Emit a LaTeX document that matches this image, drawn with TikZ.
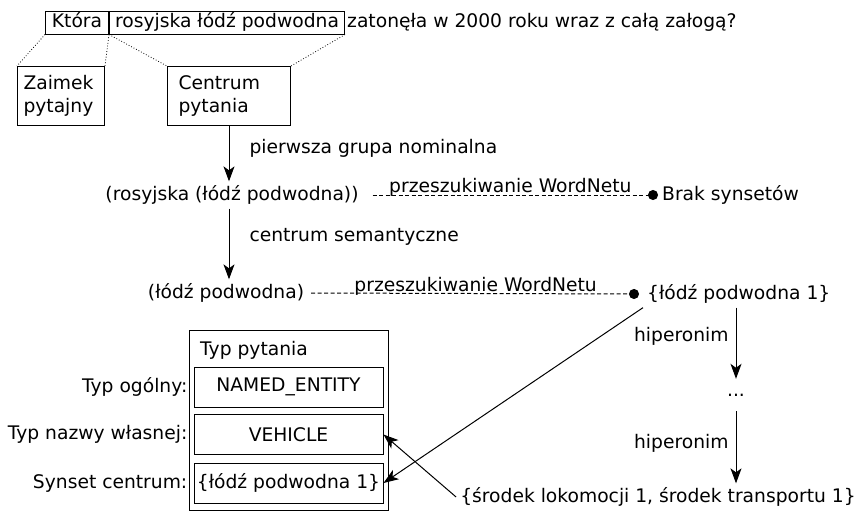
\documentclass[tikz,border=0pt]{standalone}
\usepackage{fontspec}
\setmainfont{DejaVu Sans}
\usetikzlibrary{arrows.meta,positioning}

\tikzset{
  word/.style={text height=14pt,text depth=4.5pt,inner ysep=2.25pt,inner xsep=0pt},
  framed/.style={draw,line width=1pt},
  partbox/.style={framed,align=left,anchor=north west,minimum height=59pt,inner ysep=0pt},
  phrase/.style={inner sep=4pt},
  slot/.style={framed,minimum width=189pt,minimum height=40pt,inner sep=0pt},
  tie/.style={dotted,line width=0.8pt},
  derive/.style={line width=1pt,-{Stealth[length=15pt,width=11pt,inset=4pt]}},
  search/.style={dash pattern=on 4pt off 2.5pt,line width=1pt,-{Circle[length=10pt]}}
}

\begin{document}
\begin{tikzpicture}[x=1pt,y=-1pt,font=\fontsize{18.7pt}{23pt}\selectfont]
  \useasboundingbox (0,0) rectangle (860,512);

  % Question sentence
  \node[word,framed,minimum width=63pt,anchor=west] (ktora) at (45,22.5) {Która};
  \node[word,framed,minimum width=235pt,anchor=west] (centre) at (ktora.east) {rosyjska łódź podwodna};
  \node[word,anchor=west,inner xsep=2pt] (rest) at (centre.east) {zatonęła w 2000 roku wraz z całą załogą?};

  % Parts of the question
  \node[partbox,text width=75pt,inner xsep=6pt] (pronoun) at (17,66) {Zaimek\\pytajny};
  \node[partbox,text width=101pt,inner xsep=11pt] (core) at (167,66) {Centrum\\pytania};
  \draw[tie] (ktora.south west) -- (pronoun.north west);
  \draw[tie] (ktora.south east) -- (pronoun.north east);
  \draw[tie] (centre.south west) -- (core.north west);
  \draw[tie] (centre.south east) -- (core.north east);

  % Analysis of the question centre
  \node[phrase] (group) at (232,195) {(rosyjska (łódź podwodna))};
  \node[phrase] (head) at (226,293) {(łódź podwodna)};
  \draw[derive] (core.south) -- (core.south |- group.north)
    node[pos=0.4,anchor=west,inner sep=4pt,xshift=16pt] (firstlbl) {pierwsza grupa nominalna};
  \draw[derive] (core.south |- group.south) -- (core.south |- head.north)
    node[pos=0.4,anchor=west,inner sep=4pt,xshift=16pt] (semlbl) {centrum semantyczne};

  % WordNet lookups
  \node[phrase,anchor=west] (none) at (658,195) {Brak synsetów};
  \node[phrase,anchor=west] (synset) at (643,294) {\{łódź podwodna 1\}};
  \draw[search,shorten <=10pt] (group.east) -- (none.west)
    node[midway,above,inner sep=0pt,yshift=-2pt] (lookup1) {przeszukiwanie WordNetu};
  \draw[search,shorten <=3pt,shorten >=4pt] (head.east) -- (synset.west)
    node[midway,above,inner sep=0pt,yshift=-2pt] (lookup2) {przeszukiwanie WordNetu};

  % Hypernym chain
  \node[minimum height=32pt,inner sep=0pt] (dots) at (736,395) {...};
  \node[phrase] (vehicle) at (658,497) {\{środek lokomocji 1, środek transportu 1\}};
  \draw[derive] (dots.north |- synset.south) -- (dots.north)
    node[pos=0.41,left=3pt,inner sep=4pt] (hyper1) {hiperonim};
  \draw[derive] (dots.south) -- (dots.south |- vehicle.north)
    node[pos=0.44,left=3pt,inner sep=4pt] (hyper2) {hiperonim};

  % Question type frame
  \node[framed,minimum width=199pt,minimum height=180pt,anchor=north west,inner sep=0pt] (frame) at (189,330) {};
  \node[anchor=west,inner sep=0pt] (frametitle) at (200,350) {Typ pytania};
  \node[slot] (general) at (288.5,387) {NAMED\_ENTITY};
  \node[slot] (named) at (288.5,434.5) {VEHICLE};
  \node[slot] (coresyn) at (288.5,483) {\{łódź podwodna 1\}};
  \node[left=2pt of general,inner sep=4pt] (generallbl) {Typ ogólny:};
  \node[left=2pt of named,inner sep=4pt] (namedlbl) {Typ nazwy własnej:};
  \node[left=2pt of coresyn,inner sep=4pt] (coresynlbl) {Synset centrum:};

  % Filling the frame
  \draw[derive] (synset.south west) -- (coresyn.east);
  \draw[derive] (vehicle.west) -- (named.east);
\end{tikzpicture}
\end{document}
